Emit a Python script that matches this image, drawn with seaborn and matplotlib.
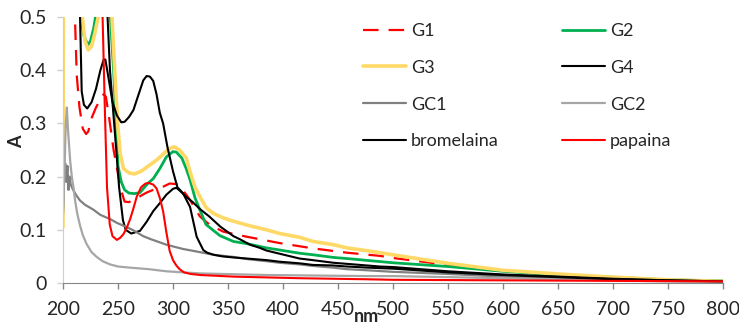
import numpy as np
import pandas as pd
import matplotlib
matplotlib.use('Agg')
import matplotlib.pyplot as plt
import seaborn as sns

# ---------------------------------------------------------------
# DATA
# ---------------------------------------------------------------
g1_nm = [200, 205, 209, 211, 212.5, 215, 218, 221, 223, 226, 230, 234, 237, 239,
         242, 246, 250, 253.5, 256, 260, 265, 270, 276, 282, 291, 297, 303, 306,
         310, 315.5, 320, 324.5, 333.6, 345.7, 367, 397, 427.5, 458, 488, 500,
         550, 600, 650, 700, 750, 800]
g1_a = [0.9, 0.75, 0.55, 0.49, 0.39, 0.33, 0.29, 0.28, 0.285, 0.31, 0.33, 0.345,
        0.355, 0.35, 0.31, 0.25, 0.205, 0.17, 0.153, 0.152, 0.158, 0.163, 0.17,
        0.175, 0.181, 0.187, 0.186, 0.183, 0.172, 0.156, 0.14, 0.125, 0.109,
        0.0965, 0.087, 0.075, 0.065, 0.057, 0.051, 0.047, 0.034, 0.023, 0.016,
        0.010, 0.006, 0.003]

g2_nm = [200, 214, 216, 219, 222.5, 225, 228, 231, 233, 241, 243, 246, 250, 253,
         256, 260, 265, 270, 277, 282, 288, 294, 300, 303, 308, 312, 315.5, 320,
         324.5, 330, 336.6, 342.7, 355, 367, 385, 397, 415, 427.5, 446, 458, 479,
         500, 550, 600, 650, 700, 750, 800]
g2_a = [0.8, 0.8, 0.5, 0.465, 0.447, 0.455, 0.48, 0.52, 0.8, 0.8, 0.5, 0.4, 0.22,
        0.19, 0.175, 0.169, 0.168, 0.17, 0.187, 0.196, 0.215, 0.237, 0.247, 0.246,
        0.235, 0.215, 0.194, 0.16, 0.137, 0.11, 0.099, 0.089, 0.078, 0.074, 0.066,
        0.062, 0.056, 0.053, 0.048, 0.046, 0.042, 0.038, 0.031, 0.022, 0.015,
        0.011, 0.006, 0.004]

g3_nm = [200, 200.6, 215, 217.5, 220, 223, 226, 229, 232, 234, 242, 244.5, 247,
         250, 252, 255, 260, 265, 271, 279, 285, 291, 296, 301, 306, 312, 316,
         320, 324.5, 330, 336.6, 345, 352, 367, 385, 397, 415, 427.5, 446, 458,
         479, 500, 550, 600, 650, 700, 750, 800]
g3_a = [0.105, 0.8, 0.8, 0.5, 0.455, 0.438, 0.445, 0.47, 0.5, 0.8, 0.8, 0.5, 0.4,
        0.29, 0.244, 0.215, 0.207, 0.205, 0.21, 0.222, 0.231, 0.242, 0.252, 0.256,
        0.25, 0.235, 0.206, 0.18, 0.162, 0.142, 0.131, 0.123, 0.118, 0.109, 0.100,
        0.093, 0.086, 0.078, 0.072, 0.066, 0.060, 0.053, 0.037, 0.024, 0.017,
        0.011, 0.006, 0.003]

g4_nm = [200, 238, 240.5, 242.7, 248, 251, 254.5, 257, 262, 270, 276, 282, 288,
         294, 300, 303, 306, 312, 318, 324.5, 333, 343, 355, 361, 370, 379, 385,
         397, 415, 427, 446, 458, 476, 488, 500, 550, 600, 650, 700, 750, 800]
g4_a = [0.8, 0.8, 0.5, 0.40, 0.26, 0.18, 0.118, 0.10, 0.093, 0.098, 0.115, 0.135,
        0.15, 0.166, 0.177, 0.179, 0.174, 0.162, 0.152, 0.139, 0.125, 0.106, 0.088,
        0.082, 0.072, 0.066, 0.061, 0.055, 0.046, 0.043, 0.038, 0.036, 0.033,
        0.031, 0.030, 0.022, 0.016, 0.012, 0.008, 0.005, 0.003]

gc1_nm = [200, 201, 202, 203, 204, 205, 206, 207, 209, 212, 215.5, 220, 227.5, 234,
          243, 249, 258, 264, 273, 279, 294, 309, 324.5, 337, 355, 367, 385, 397,
          415, 427.5, 445, 458, 476, 500, 550, 600, 650, 700, 750, 800]
gc1_a = [0.13, 0.2, 0.225, 0.19, 0.22, 0.175, 0.2, 0.185, 0.176, 0.165, 0.155,
         0.147, 0.138, 0.128, 0.12, 0.113, 0.105, 0.099, 0.088, 0.083, 0.072, 0.064,
         0.058, 0.053, 0.049, 0.045, 0.041, 0.038, 0.035, 0.032, 0.029, 0.026,
         0.024, 0.021, 0.017, 0.012, 0.009, 0.006, 0.004, 0.003]

gc2_nm = [200, 201.5, 202.5, 203.5, 204.5, 205.5, 206.5, 208, 209.5, 211, 213,
          215.5, 218, 221.5, 226, 230.6, 236, 242.7, 250, 260, 278, 294, 324.5, 385,
          476, 500, 550, 600, 650, 700, 750, 800]
gc2_a = [0.13, 0.22, 0.30, 0.33, 0.29, 0.26, 0.23, 0.2, 0.18, 0.155, 0.13, 0.108,
         0.09, 0.073, 0.058, 0.049, 0.041, 0.035, 0.031, 0.029, 0.026, 0.022, 0.018,
         0.015, 0.013, 0.013, 0.011, 0.009, 0.007, 0.005, 0.003, 0.002]

brom_nm = [200, 214, 215.5, 217, 219, 222, 226, 230, 234, 237, 238.5, 241, 245,
           249, 253, 256, 260, 264, 268, 273, 276, 279, 282, 285, 288, 291, 295,
           300, 304, 309, 315.5, 321.5, 327.5, 331, 337, 345, 355, 367, 385, 397,
           415, 427, 445, 458, 476, 500, 550, 600, 650, 700, 750, 800]
brom_a = [0.8, 0.8, 0.5, 0.36, 0.335, 0.328, 0.34, 0.365, 0.40, 0.42, 0.42, 0.39,
          0.34, 0.315, 0.302, 0.303, 0.312, 0.325, 0.35, 0.381, 0.389, 0.388, 0.38,
          0.355, 0.32, 0.30, 0.255, 0.21, 0.18, 0.169, 0.143, 0.087, 0.062, 0.057,
          0.053, 0.05, 0.048, 0.046, 0.043, 0.040, 0.037, 0.034, 0.033, 0.031,
          0.029, 0.027, 0.020, 0.015, 0.011, 0.007, 0.005, 0.003]

pap_nm = [200, 234, 236, 238, 240, 242.5, 245, 249, 252, 255, 258, 261, 264, 267,
          271, 275, 278, 282, 285, 288, 291, 294, 297, 300, 303, 306, 310, 316,
          325, 355, 415, 476, 500, 600, 700, 800]
pap_a = [0.8, 0.8, 0.5, 0.33, 0.18, 0.11, 0.088, 0.081, 0.085, 0.092, 0.104, 0.12,
         0.14, 0.162, 0.18, 0.187, 0.188, 0.185, 0.178, 0.16, 0.135, 0.095, 0.06,
         0.043, 0.033, 0.026, 0.020, 0.017, 0.015, 0.012, 0.009, 0.007, 0.006,
         0.005, 0.004, 0.003]

series_names = ['G1', 'G2', 'G3', 'G4', 'GC1', 'GC2', 'bromelaina', 'papaina']
series_nm = [g1_nm, g2_nm, g3_nm, g4_nm, gc1_nm, gc2_nm, brom_nm, pap_nm]
series_a = [g1_a, g2_a, g3_a, g4_a, gc1_a, gc2_a, brom_a, pap_a]

x_ticks = list(range(200, 801, 50))
y_ticks = [0, 0.1, 0.2, 0.3, 0.4, 0.5]
y_tick_labels = ['0', '0.1', '0.2', '0.3', '0.4', '0.5']

# ---------------------------------------------------------------
# STYLE
# ---------------------------------------------------------------
styles = {
    'G1':         dict(color='#ff0000', lw=1.6, dashes=(7, 4.5)),
    'G2':         dict(color='#00b050', lw=2.0),
    'G3':         dict(color='#ffd966', lw=2.6),
    'G4':         dict(color='#000000', lw=1.5),
    'GC1':        dict(color='#808080', lw=1.6),
    'GC2':        dict(color='#a6a6a6', lw=1.6),
    'bromelaina': dict(color='#000000', lw=1.5),
    'papaina':    dict(color='#ff0000', lw=1.5),
}

sns.set_style('white')
plt.rcParams['font.family'] = ['Lato', 'DejaVu Sans']

fig = plt.figure(figsize=(7.39, 3.28), dpi=100)
ax = fig.add_axes([63 / 739, 1 - 283 / 328, 660 / 739, 266 / 328])

for name, xs, ys in zip(series_names, series_nm, series_a):
    st = styles[name]
    df = pd.DataFrame({'nm': xs, 'A': ys})
    sns.lineplot(data=df, x='nm', y='A', ax=ax, color=st['color'],
                 linewidth=st['lw'], label=name, legend=False)
    if 'dashes' in st:
        ax.lines[-1].set_dashes(st['dashes'])

ax.set_xlim(200, 800)
ax.set_ylim(0, 0.5)
ax.set_xticks(x_ticks)
ax.set_yticks(y_ticks)
ax.set_yticklabels(y_tick_labels)
ax.tick_params(axis='x', direction='out', length=4, width=1, color='#868686',
               labelsize=14, pad=9, bottom=True)
ax.tick_params(axis='y', direction='out', length=4, width=1, color='#d0d0d0',
               labelsize=14, pad=8, left=True)

for s in ['top', 'right']:
    ax.spines[s].set_visible(False)
ax.spines['bottom'].set_color('#868686')
ax.spines['left'].set_color('#d0d0d0')

ax.set_xlabel('nm', fontsize=13, fontweight='bold')
ax.set_ylabel('A', fontsize=13, fontweight='bold')
ax.xaxis.set_label_coords(0.46, -0.148)
ax.xaxis.label.set_verticalalignment('baseline')
ax.yaxis.set_label_coords(-0.058, 0.53)

# legend: 2 columns, filled column-wise
handles, labels = ax.get_legend_handles_labels()
by_label = dict(zip(labels, handles))
order = ['G1', 'G3', 'GC1', 'bromelaina', 'G2', 'G4', 'GC2', 'papaina']
ax.legend([by_label[k] for k in order], order, ncol=2, loc='upper left',
          bbox_to_anchor=(363 / 739, 1 - 23 / 328), bbox_transform=fig.transFigure,
          frameon=False, fontsize=13, borderpad=0, borderaxespad=0,
          handlelength=2.4, handletextpad=0.25, labelspacing=1.15,
          columnspacing=3.5)

fig.savefig('out.png', dpi=100)
